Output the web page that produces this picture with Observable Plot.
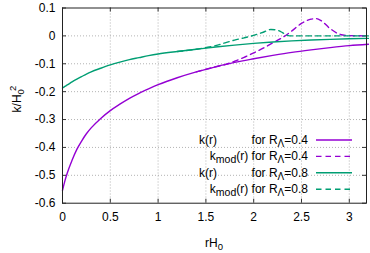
<!DOCTYPE html>
<html><head><meta charset="utf-8">
<script src="https://cdn.jsdelivr.net/npm/d3@7"></script>
<script src="https://cdn.jsdelivr.net/npm/@observablehq/plot@0.6"></script>
<style>
body{margin:0;background:#fff}
svg{font-family:"Liberation Sans",Arial,sans-serif}
</style>
</head><body><div id="chart"></div>
<script>
// ---- data ----
const rK   = [0, 0.025, 0.05, 0.1, 0.15, 0.2, 0.25, 0.3, 0.4, 0.5, 0.6, 0.7, 0.8, 0.9, 1.0, 1.2, 1.4, 1.6, 1.8, 2.0, 2.2, 2.4, 2.6, 2.8, 3.0, 3.2];
const k04  = [-0.554, -0.520, -0.492, -0.446, -0.407, -0.377, -0.351, -0.330, -0.296, -0.268, -0.245, -0.224, -0.206, -0.190, -0.175, -0.150, -0.129, -0.111, -0.095, -0.082, -0.070, -0.059, -0.050, -0.042, -0.035, -0.030];
const k08  = [-0.187, -0.181, -0.176, -0.165, -0.155, -0.146, -0.137, -0.129, -0.116, -0.104, -0.094, -0.085, -0.078, -0.071, -0.065, -0.056, -0.048, -0.040, -0.033, -0.027, -0.022, -0.018, -0.015, -0.0125, -0.0105, -0.009];

const rMod04  = [1.4, 1.6, 1.7, 1.8, 1.9, 2.0, 2.1, 2.2, 2.3, 2.4, 2.5, 2.6, 2.65, 2.7, 2.8, 2.9, 3.0, 3.2];
const kmod04  = [-0.129, -0.111, -0.103, -0.091, -0.077, -0.061, -0.044, -0.025, -0.006, 0.018, 0.045, 0.060, 0.062, 0.056, 0.026, 0.006, 0.001, 0.0];
const rMod08  = [1.2, 1.4, 1.5, 1.6, 1.7, 1.8, 1.9, 2.0, 2.1, 2.18, 2.25, 2.3, 2.35, 2.4, 3.2];
const kmod08  = [-0.056, -0.048, -0.042, -0.035, -0.025, -0.015, -0.007, 0.002, 0.013, 0.023, 0.020, 0.012, 0.002, 0.0, 0.0];

const xTicks = [0, 0.5, 1, 1.5, 2, 2.5, 3];
const xTickLabels = ["0", "0.5", "1", "1.5", "2", "2.5", "3"];
const yTicks = [0.1, 0, -0.1, -0.2, -0.3, -0.4, -0.5, -0.6];
const yTickLabels = ["0.1", "0", "-0.1", "-0.2", "-0.3", "-0.4", "-0.5", "-0.6"];
const legendName = ["k(r)", "kmod(r)", "k(r)", "kmod(r)"];
const legendR = ["0.4", "0.4", "0.8", "0.8"];

// ---- layout ----
const W = 370, H = 253, mL = 62, mR = 4, mT = 7.5, mB = 50.3;
const pW = W - mL - mR, pH = H - mT - mB, tickLen = 4;
const purple = "#9400d3", green = "#009e73";
const lw = 1.4, dash = "5.5,4";

const s04 = rK.map((r, i) => ({r, k: k04[i]}));
const s08 = rK.map((r, i) => ({r, k: k08[i]}));
const m04 = rMod04.map((r, i) => ({r, k: kmod04[i]}));
const m08 = rMod08.map((r, i) => ({r, k: kmod08[i]}));

const gridX = xTicks.filter(d => d > 0);
const gridY = yTicks.filter(d => d < 0.1 && d > -0.6);

const plot = Plot.plot({
  width: W, height: H,
  marginLeft: mL, marginRight: mR, marginTop: mT, marginBottom: mB,
  style: {fontFamily: '"Liberation Sans",Arial,sans-serif', fontSize: "12px", color: "#000", background: "#fff"},
  x: {domain: [0, 3.18], label: null},
  y: {domain: [-0.6, 0.1], label: null},
  marks: [
    Plot.ruleX(gridX, {x: d => d, stroke: "#a0a0a0", strokeWidth: 0.8, strokeDasharray: "1,2"}),
    Plot.ruleY(gridY, {y: d => d, stroke: "#a0a0a0", strokeWidth: 0.8, strokeDasharray: "1,2"}),
    // inward ticks (bottom, top, left, right)
    Plot.ruleX(xTicks, {x: d => d, insetTop: pH - tickLen, stroke: "#333"}),
    Plot.ruleX(xTicks, {x: d => d, insetBottom: pH - tickLen, stroke: "#333"}),
    Plot.ruleY(yTicks, {y: d => d, insetRight: pW - tickLen, stroke: "#333"}),
    Plot.ruleY(yTicks, {y: d => d, insetLeft: pW - tickLen, stroke: "#333"}),
    Plot.line(s04, {x: "r", y: "k", stroke: purple, strokeWidth: lw, curve: "monotone-x"}),
    Plot.line(m04, {x: "r", y: "k", stroke: purple, strokeWidth: lw, strokeDasharray: dash, curve: "monotone-x"}),
    Plot.line(s08, {x: "r", y: "k", stroke: green, strokeWidth: lw, curve: "monotone-x"}),
    Plot.line(m08, {x: "r", y: "k", stroke: green, strokeWidth: lw, strokeDasharray: dash, curve: "monotone-x"}),
    Plot.frame({stroke: "#222", strokeWidth: 1}),
    Plot.axisX(xTicks, {tickSize: 0, tickPadding: 9, tickFormat: (d, i) => xTickLabels[i], fontSize: 12}),
    Plot.axisY(yTicks, {tickSize: 0, tickPadding: 7, tickFormat: (d, i) => yTickLabels[i], fontSize: 12})
  ]
});
document.getElementById("chart").appendChild(plot);

const svg = d3.select(plot);
// axis titles
const yl = svg.append("text")
  .attr("transform", `translate(21,${mT + pH / 2 - 6}) rotate(-90)`)
  .attr("text-anchor", "middle").attr("font-size", 12).attr("fill", "#000");
yl.append("tspan").text("k/H");
yl.append("tspan").attr("font-size", 9.5).attr("dy", 3).text("0");
yl.append("tspan").attr("font-size", 9.5).attr("dy", -8).attr("dx", -2).text("2");

const xl = svg.append("text")
  .attr("x", mL + pW / 2).attr("y", 247)
  .attr("text-anchor", "middle").attr("font-size", 12).attr("fill", "#000");
xl.append("tspan").text("rH");
xl.append("tspan").attr("font-size", 9.5).attr("dy", 3).text("0");

// legend
const colors = [purple, purple, green, green];
const dashes = [null, dash, null, dash];
legendName.forEach((name, i) => {
  const y = 140 + i * 16.4;
  const t = svg.append("text").attr("x", 308).attr("y", y + 4)
    .attr("text-anchor", "end").attr("font-size", 12).attr("fill", "#000");
  if (name === "kmod(r)") {
    t.append("tspan").text("k");
    t.append("tspan").attr("font-size", 10.5).attr("dy", 3).text("mod");
    t.append("tspan").attr("dy", -3).text("(r) for R");
  } else {
    svg.append("text").attr("x", 208).attr("y", y + 4)
      .attr("font-size", 12).attr("fill", "#000").text(name);
    t.append("tspan").text("for R");
  }
  t.append("tspan").attr("font-size", 10).attr("dy", 3).text("Λ");
  t.append("tspan").attr("dy", -3).text("=" + legendR[i]);
  svg.append("line").attr("x1", 316).attr("x2", 352).attr("y1", y).attr("y2", y)
    .attr("stroke", colors[i]).attr("stroke-width", lw)
    .attr("stroke-dasharray", dashes[i]);
});
</script>
</body></html>
